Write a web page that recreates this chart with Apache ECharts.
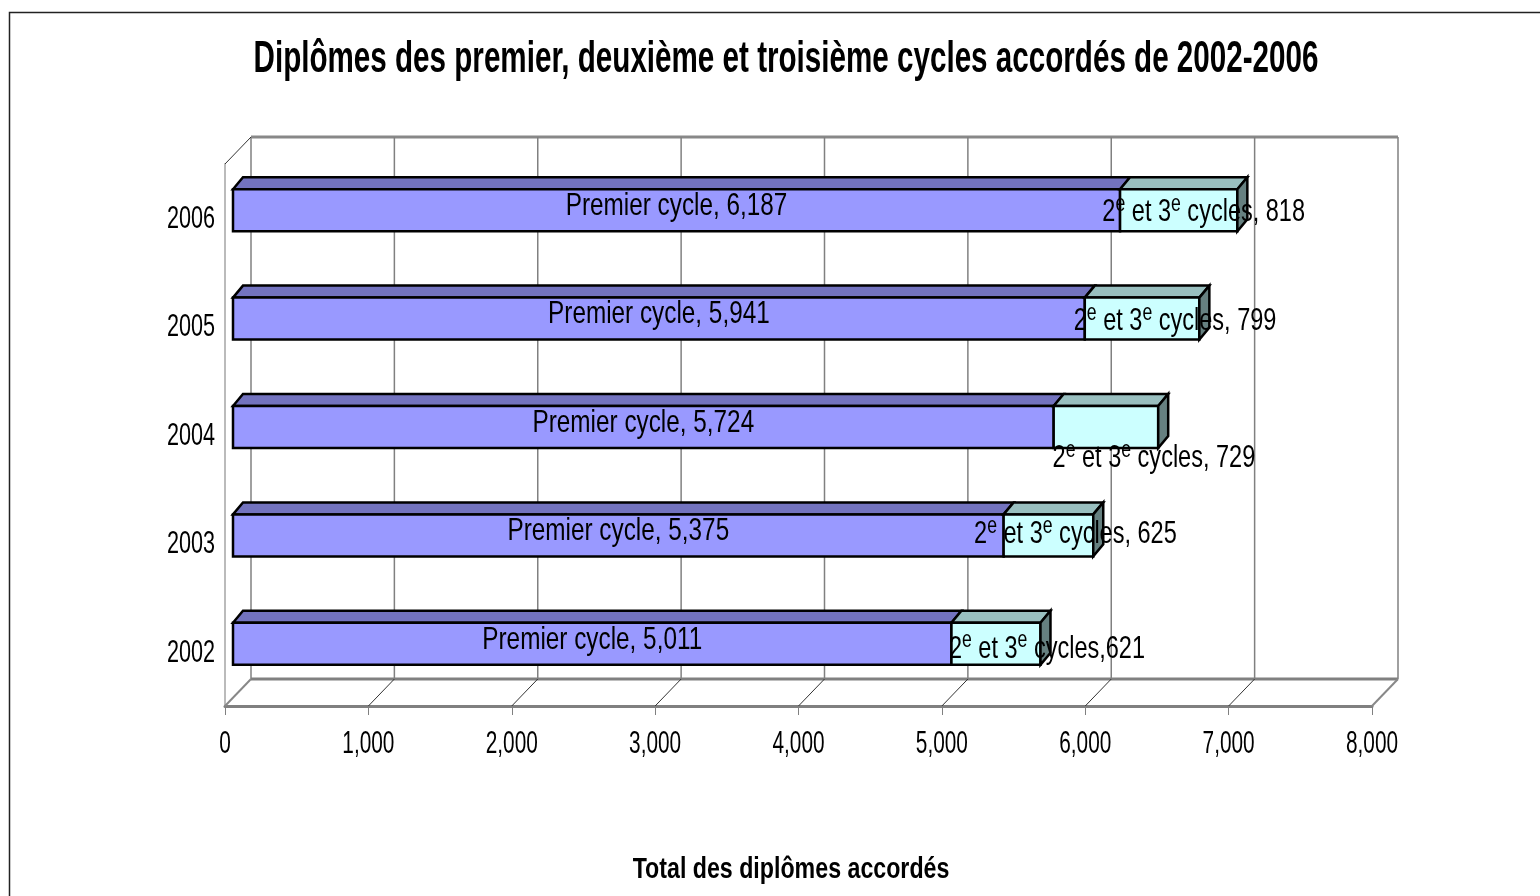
<!DOCTYPE html>
<html>
<head>
<meta charset="utf-8">
<title>Diplômes accordés</title>
<script src="https://cdn.jsdelivr.net/npm/echarts@6/dist/echarts.min.js"></script>
<style>
html,body{margin:0;padding:0;background:#fff;}
#chart{width:1540px;height:896px;}
</style>
</head>
<body>
<div id="chart"></div>
<script>
var annees = ['2002', '2003', '2004', '2005', '2006'];
var premierCycle = [5011, 5375, 5724, 5941, 6187];
var deuxiemeTroisieme = [621, 625, 729, 799, 818];
var xTicks = [0, 1000, 2000, 3000, 4000, 5000, 6000, 7000, 8000];

var police = '"Liberation Sans",Arial,sans-serif';

// profondeur du mur du fond et des barres, en pixels
var murX = 26, murY = -27;
var barX = 8, barY = -8, barH = 42, profX = 10, profY = -12;
// décalage des étiquettes du 2e et 3e cycles (placées à la main dans l'original)
var decalage = [[51, 3], [27, -3], [48, 29], [33, 1], [25, 0]];

function nombre(v){
	return v.toLocaleString('en-US');
}

function ligne(x1, y1, x2, y2, couleur, largeur){
	return {
		type: 'line',
		shape: {x1: x1, y1: y1, x2: x2, y2: y2},
		style: {stroke: couleur, lineWidth: largeur}
	};
}

// le texte de l'original est étroit : pas de police étroite ici, on comprime en largeur
function texte(chaine, x, y, taille, echelle, align, gras){
	return {
		type: 'text',
		x: x,
		y: y,
		scaleX: echelle,
		silent: true,
		style: {
			text: chaine,
			fill: '#000',
			font: (gras ? 'bold ' : '') + taille + 'px ' + police,
			align: align,
			verticalAlign: 'middle'
		}
	};
}

// murs, quadrillage, plancher et graduations
function dessineMurs(params, api){
	var v = xTicks[params.dataIndex];
	var band = api.size([0, 1])[1];
	var bas = api.coord([v, 0]);
	var haut = api.coord([v, annees.length - 1]);
	var x = bas[0];
	var yBas = bas[1] + band / 2;
	var yHaut = haut[1] - band / 2;
	var bord = v === 0 || v === 8000;
	var enfants = [
		ligne(x + murX, yHaut + murY, x + murX, yBas + murY, '#808080', 1.5),
		ligne(x, yBas, x + murX, yBas + murY, bord ? '#888888' : '#333333', bord ? 2 : 1),
		texte(nombre(v), x, yBas + 38, 32, 0.65, 'center', false)
	];
	if (v === 0) {
		var fin = api.coord([8000, 0])[0];
		enfants.push(ligne(x + murX, yHaut + murY, fin + murX, yHaut + murY, '#888888', 3));
		enfants.push(ligne(x + murX, yBas + murY, fin + murX, yBas + murY, '#808080', 3));
		enfants.push(ligne(x, yHaut, x + murX, yHaut + murY, '#333333', 1));
	}
	return {type: 'group', children: enfants};
}

function face(points, couleur){
	return {
		type: 'polygon',
		shape: {points: points},
		style: {fill: couleur, stroke: '#000', lineWidth: 2.5, lineJoin: 'miter'}
	};
}

function dessineBarre(debuts, valeurs, couleurFace, couleurDessus, avecCote){
	return function(params, api){
		var i = params.dataIndex;
		var a = api.coord([debuts[i], i]);
		var b = api.coord([debuts[i] + valeurs[i], i]);
		var x1 = a[0] + barX, x2 = b[0] + barX;
		var y1 = a[1] + barY - barH / 2, y2 = y1 + barH;
		var enfants = [
			face([[x1, y1], [x1 + profX, y1 + profY], [x2 + profX, y1 + profY], [x2, y1]], couleurDessus),
			face([[x1, y1], [x2, y1], [x2, y2], [x1, y2]], couleurFace)
		];
		if (avecCote) {
			enfants.push(face([[x2, y1], [x2 + profX, y1 + profY], [x2 + profX, y2 + profY], [x2, y2]], '#668080'));
		}
		return {type: 'group', children: enfants};
	};
}

function etiquettePremier(params, api){
	var i = params.dataIndex;
	var a = api.coord([0, i]);
	var b = api.coord([premierCycle[i], i]);
	return {
		type: 'group',
		children: [
			texte('Premier cycle, ' + nombre(premierCycle[i]), (a[0] + b[0]) / 2 + barX, a[1] + barY - 4, 32, 0.76, 'center', false),
			texte(annees[i], a[0] - 10, a[1] + 1, 32, 0.675, 'right', false)
		]
	};
}

function etiquetteSecond(params, api){
	var i = params.dataIndex;
	var a = api.coord([premierCycle[i], i]);
	var b = api.coord([premierCycle[i] + deuxiemeTroisieme[i], i]);
	var sep = i === 0 ? ',' : ', ';
	return {
		type: 'text',
		x: (a[0] + b[0]) / 2 + barX + decalage[i][0],
		y: a[1] + barY + decalage[i][1],
		scaleX: 0.735,
		silent: true,
		style: {
			text: '{m|2}{s|e}{m| et 3}{s|e}{m| cycles' + sep + nombre(deuxiemeTroisieme[i]) + '}',
			align: 'center',
			verticalAlign: 'middle',
			rich: {
				m: {fontFamily: police, fontSize: 32, fill: '#000', lineHeight: 36, verticalAlign: 'bottom'},
				s: {fontFamily: police, fontSize: 24, fill: '#000', lineHeight: 36, verticalAlign: 'top'}
			}
		}
	};
}

function diplomes(name){
	var myChar = echarts.init(document.getElementById(name));
	var donnees = annees.map(function(a, i){ return [premierCycle[i], a]; });
	var zeros = annees.map(function(){ return 0; });
	var option = {
		backgroundColor: '#fff',
		animation: false,
		graphic: [
			{
				type: 'rect',
				silent: true,
				shape: {x: 9.5, y: 12.5, width: 1700, height: 1000},
				style: {fill: 'none', stroke: '#222', lineWidth: 1.5}
			},
			texte('Diplômes des premier, deuxième et troisième cycles accordés de 2002-2006', 786, 60, 44, 0.673, 'center', true),
			texte('Total des diplômes accordés', 791, 870, 29, 0.8, 'center', true)
		],
		grid: {left: 225, top: 164, width: 1147, height: 542},
		xAxis: {
			type: 'value',
			min: 0,
			max: 8000,
			interval: 1000,
			axisLine: {show: true, lineStyle: {color: '#808080', width: 3}},
			axisTick: {show: true, length: 9, lineStyle: {color: '#808080', width: 1}},
			splitLine: {show: false},
			axisLabel: {show: false}
		},
		yAxis: {
			type: 'category',
			data: annees,
			axisLine: {show: true, lineStyle: {color: '#bbbbbb', width: 2}},
			axisTick: {show: false},
			splitLine: {show: false},
			axisLabel: {show: false}
		},
		series: [
			{
				name: 'murs',
				type: 'custom',
				clip: false,
				silent: true,
				data: xTicks.map(function(v){ return [v, annees[0]]; }),
				encode: {x: 0, y: 1},
				renderItem: dessineMurs
			},
			{
				name: 'Premier cycle',
				type: 'custom',
				clip: false,
				data: donnees,
				encode: {x: 0, y: 1},
				renderItem: dessineBarre(zeros, premierCycle, '#9999FF', '#7373BF', false)
			},
			{
				name: '2e et 3e cycles',
				type: 'custom',
				clip: false,
				data: donnees,
				encode: {x: 0, y: 1},
				renderItem: dessineBarre(premierCycle, deuxiemeTroisieme, '#CCFFFF', '#99BFBF', true)
			},
			{
				type: 'custom',
				clip: false,
				silent: true,
				data: donnees,
				encode: {x: 0, y: 1},
				renderItem: etiquettePremier
			},
			{
				type: 'custom',
				clip: false,
				silent: true,
				data: donnees,
				encode: {x: 0, y: 1},
				renderItem: etiquetteSecond
			}
		]
	};
	myChar.setOption(option);
}

diplomes('chart');
</script>
</body>
</html>
